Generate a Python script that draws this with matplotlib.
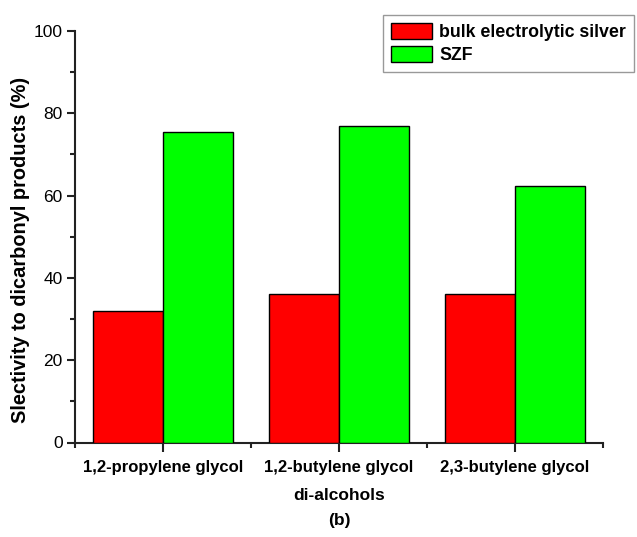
import matplotlib
matplotlib.use("Agg")
import matplotlib.pyplot as plt
import numpy as np
from matplotlib.ticker import MultipleLocator, FixedLocator

plt.rcParams['font.family'] = ['Liberation Sans', 'DejaVu Sans']

categories = ["1,2-propylene glycol", "1,2-butylene glycol", "2,3-butylene glycol"]
series_names = ["bulk electrolytic silver", "SZF"]
bulk_silver = [32.0, 36.1, 36.0]
szf = [75.5, 76.8, 62.4]
colors = ["#ff0000", "#00ff00"]

fig = plt.figure(figsize=(6.37, 5.37), dpi=100)
ax = fig.add_axes([75 / 637, 1 - 442.5 / 537, (603 - 75) / 637, (442.5 - 31) / 537])

x = np.arange(len(categories))
w = 0.4
ax.bar(x - w / 2, bulk_silver, width=w, color=colors[0], edgecolor="black",
       linewidth=1.0, label=series_names[0], zorder=3)
ax.bar(x + w / 2, szf, width=w, color=colors[1], edgecolor="black",
       linewidth=1.0, label=series_names[1], zorder=3)

ax.set_xlim(-0.5, 2.5)
ax.set_ylim(0, 100)

for side in ("top", "right"):
    ax.spines[side].set_visible(False)
for side in ("left", "bottom"):
    ax.spines[side].set_linewidth(1.5)
    ax.spines[side].set_color("#222222")

ax.yaxis.set_major_locator(MultipleLocator(20))
ax.yaxis.set_minor_locator(MultipleLocator(10))
ax.set_xticks(x)
ax.set_xticklabels(categories, fontweight="bold", fontsize=12)
ax.xaxis.set_minor_locator(FixedLocator([-0.5, 0.5, 1.5, 2.5]))

ax.tick_params(axis="y", which="major", direction="out", length=6, width=1.5,
               labelsize=12.5, pad=3, color="#222222")
ax.tick_params(axis="y", which="minor", direction="out", length=3.5, width=1.5,
               color="#222222")
ax.tick_params(axis="x", which="major", direction="out", length=6.5, width=1.5,
               labelsize=12, pad=6, color="#222222")
ax.tick_params(axis="x", which="minor", direction="out", length=3.5, width=1.5,
               color="#222222")

ax.set_ylabel("Slectivity to dicarbonyl products (%)", fontsize=14.4,
              fontweight="bold")
ax.yaxis.set_label_coords((30 - 75) / 528, (442.5 - 250) / 411.5)

fig.text(339 / 637, 1 - 495 / 537, "di-alcohols", ha="center", va="center",
         fontsize=12.5, fontweight="bold")
fig.text(339 / 637, 1 - 521 / 537, "(b)", ha="center", va="center",
         fontsize=12.5, fontweight="bold")

leg = ax.legend(loc="upper left", bbox_to_anchor=(383 / 637, 1 - 15 / 537),
                bbox_transform=fig.transFigure, borderaxespad=0,
                prop={"weight": "bold", "size": 12.8}, fancybox=False,
                handlelength=2.3, handleheight=1.0, handletextpad=0.4,
                labelspacing=0.3, borderpad=0.45, framealpha=1)
leg.get_frame().set_edgecolor("#999999")
leg.get_frame().set_linewidth(1.0)

fig.savefig("out.png", dpi=100)
